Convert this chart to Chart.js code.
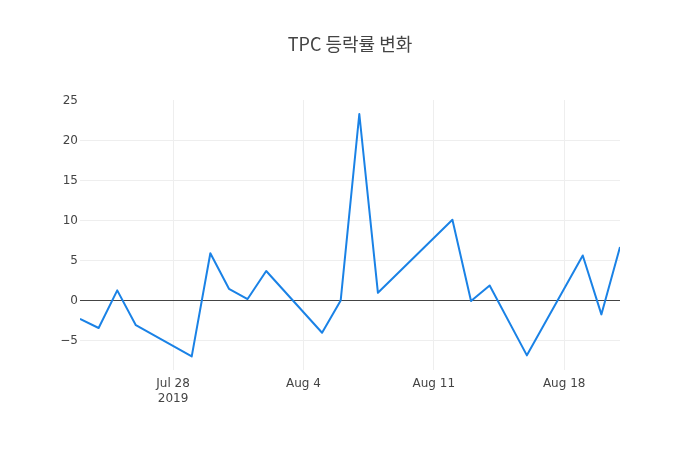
<!DOCTYPE html>
<html><head><meta charset="utf-8">
<script src="https://cdn.jsdelivr.net/npm/chart.js@4"></script>
<style>html,body{margin:0;padding:0;background:#fff}#w{width:700px;height:450px}</style>
</head><body><div id="w"><canvas id="c"></canvas></div>
<script>
const dates = ["2019-07-23","2019-07-24","2019-07-25","2019-07-26","2019-07-29","2019-07-30","2019-07-31","2019-08-01","2019-08-02","2019-08-05","2019-08-06","2019-08-07","2019-08-08","2019-08-12","2019-08-13","2019-08-14","2019-08-16","2019-08-19","2019-08-20","2019-08-21"];
const changes = [-2.3,-3.45,1.25,-3.1,-7.0,5.9,1.45,0.17,3.67,-4.04,0.0,23.3,0.95,10.08,-0.08,1.87,-6.87,5.62,-1.75,6.67];
const xTickDates = ["2019-07-28","2019-08-04","2019-08-11","2019-08-18"];
const xTickLabels = [["Jul 28","2019"],["Aug 4"],["Aug 11"],["Aug 18"]];
const yTicks = [-5,0,5,10,15,20,25];
const title = "TPC 등락률 변화";

const DAY = 86400000;
const toDay = s => Date.parse(s + "T00:00:00Z") / DAY;
const xs = dates.map(toDay);
const xTickVals = xTickDates.map(toDay);
const tickFont = "'DejaVu Sans', sans-serif";
const titleFont = "'Noto Sans CJK KR', sans-serif";

const titlePlugin = {
  id: 'ptitle',
  afterDraw(chart) {
    const ctx = chart.ctx;
    ctx.save();
    ctx.font = "18px " + titleFont;
    ctx.fillStyle = "#444";
    ctx.textAlign = "center";
    ctx.textBaseline = "middle";
    ctx.fillText(title, 350, 44);
    ctx.restore();
  }
};

new Chart(document.getElementById('c'), {
  type: 'line',
  data: {
    datasets: [{
      data: xs.map((x, i) => ({x: x, y: changes[i]})),
      borderColor: '#1a82e6',
      borderWidth: 2,
      borderJoinStyle: 'round',
      pointRadius: 0,
      tension: 0,
      fill: false
    }]
  },
  options: {
    responsive: true,
    maintainAspectRatio: false,
    animation: false,
    devicePixelRatio: 1,
    layout: {padding: {top: 100, right: 80, left: 0, bottom: 0}},
    plugins: {legend: {display: false}, title: {display: false}, tooltip: {enabled: false}},
    scales: {
      x: {
        type: 'linear',
        min: xs[0],
        max: xs[xs.length - 1],
        afterBuildTicks: s => { s.ticks = xTickVals.map(v => ({value: v})); },
        afterFit: s => { s.height = 80; },
        border: {display: false},
        grid: {color: '#eeeeee', lineWidth: 1, drawTicks: false},
        ticks: {
          padding: 7,
          color: '#444',
          font: {family: tickFont, size: 12},
          maxRotation: 0,
          autoSkip: false,
          callback: (v) => { const i = xTickVals.indexOf(v); return i >= 0 ? xTickLabels[i] : ''; }
        }
      },
      y: {
        min: -8.7,
        max: 25.05,
        afterBuildTicks: s => { s.ticks = yTicks.map(v => ({value: v})); },
        afterFit: s => { s.width = 80; },
        border: {display: false},
        grid: {
          drawTicks: false,
          color: c => c.tick && c.tick.value === 0 ? '#444444' : (c.tick && c.tick.value === 25 ? 'rgba(0,0,0,0)' : '#eeeeee'),
          lineWidth: 1
        },
        ticks: {
          padding: 2,
          color: '#444',
          font: {family: tickFont, size: 12},
          callback: v => (v < 0 ? '\u2212' + Math.abs(v) : String(v))
        }
      }
    }
  },
  plugins: [titlePlugin]
});
</script>
</body></html>
